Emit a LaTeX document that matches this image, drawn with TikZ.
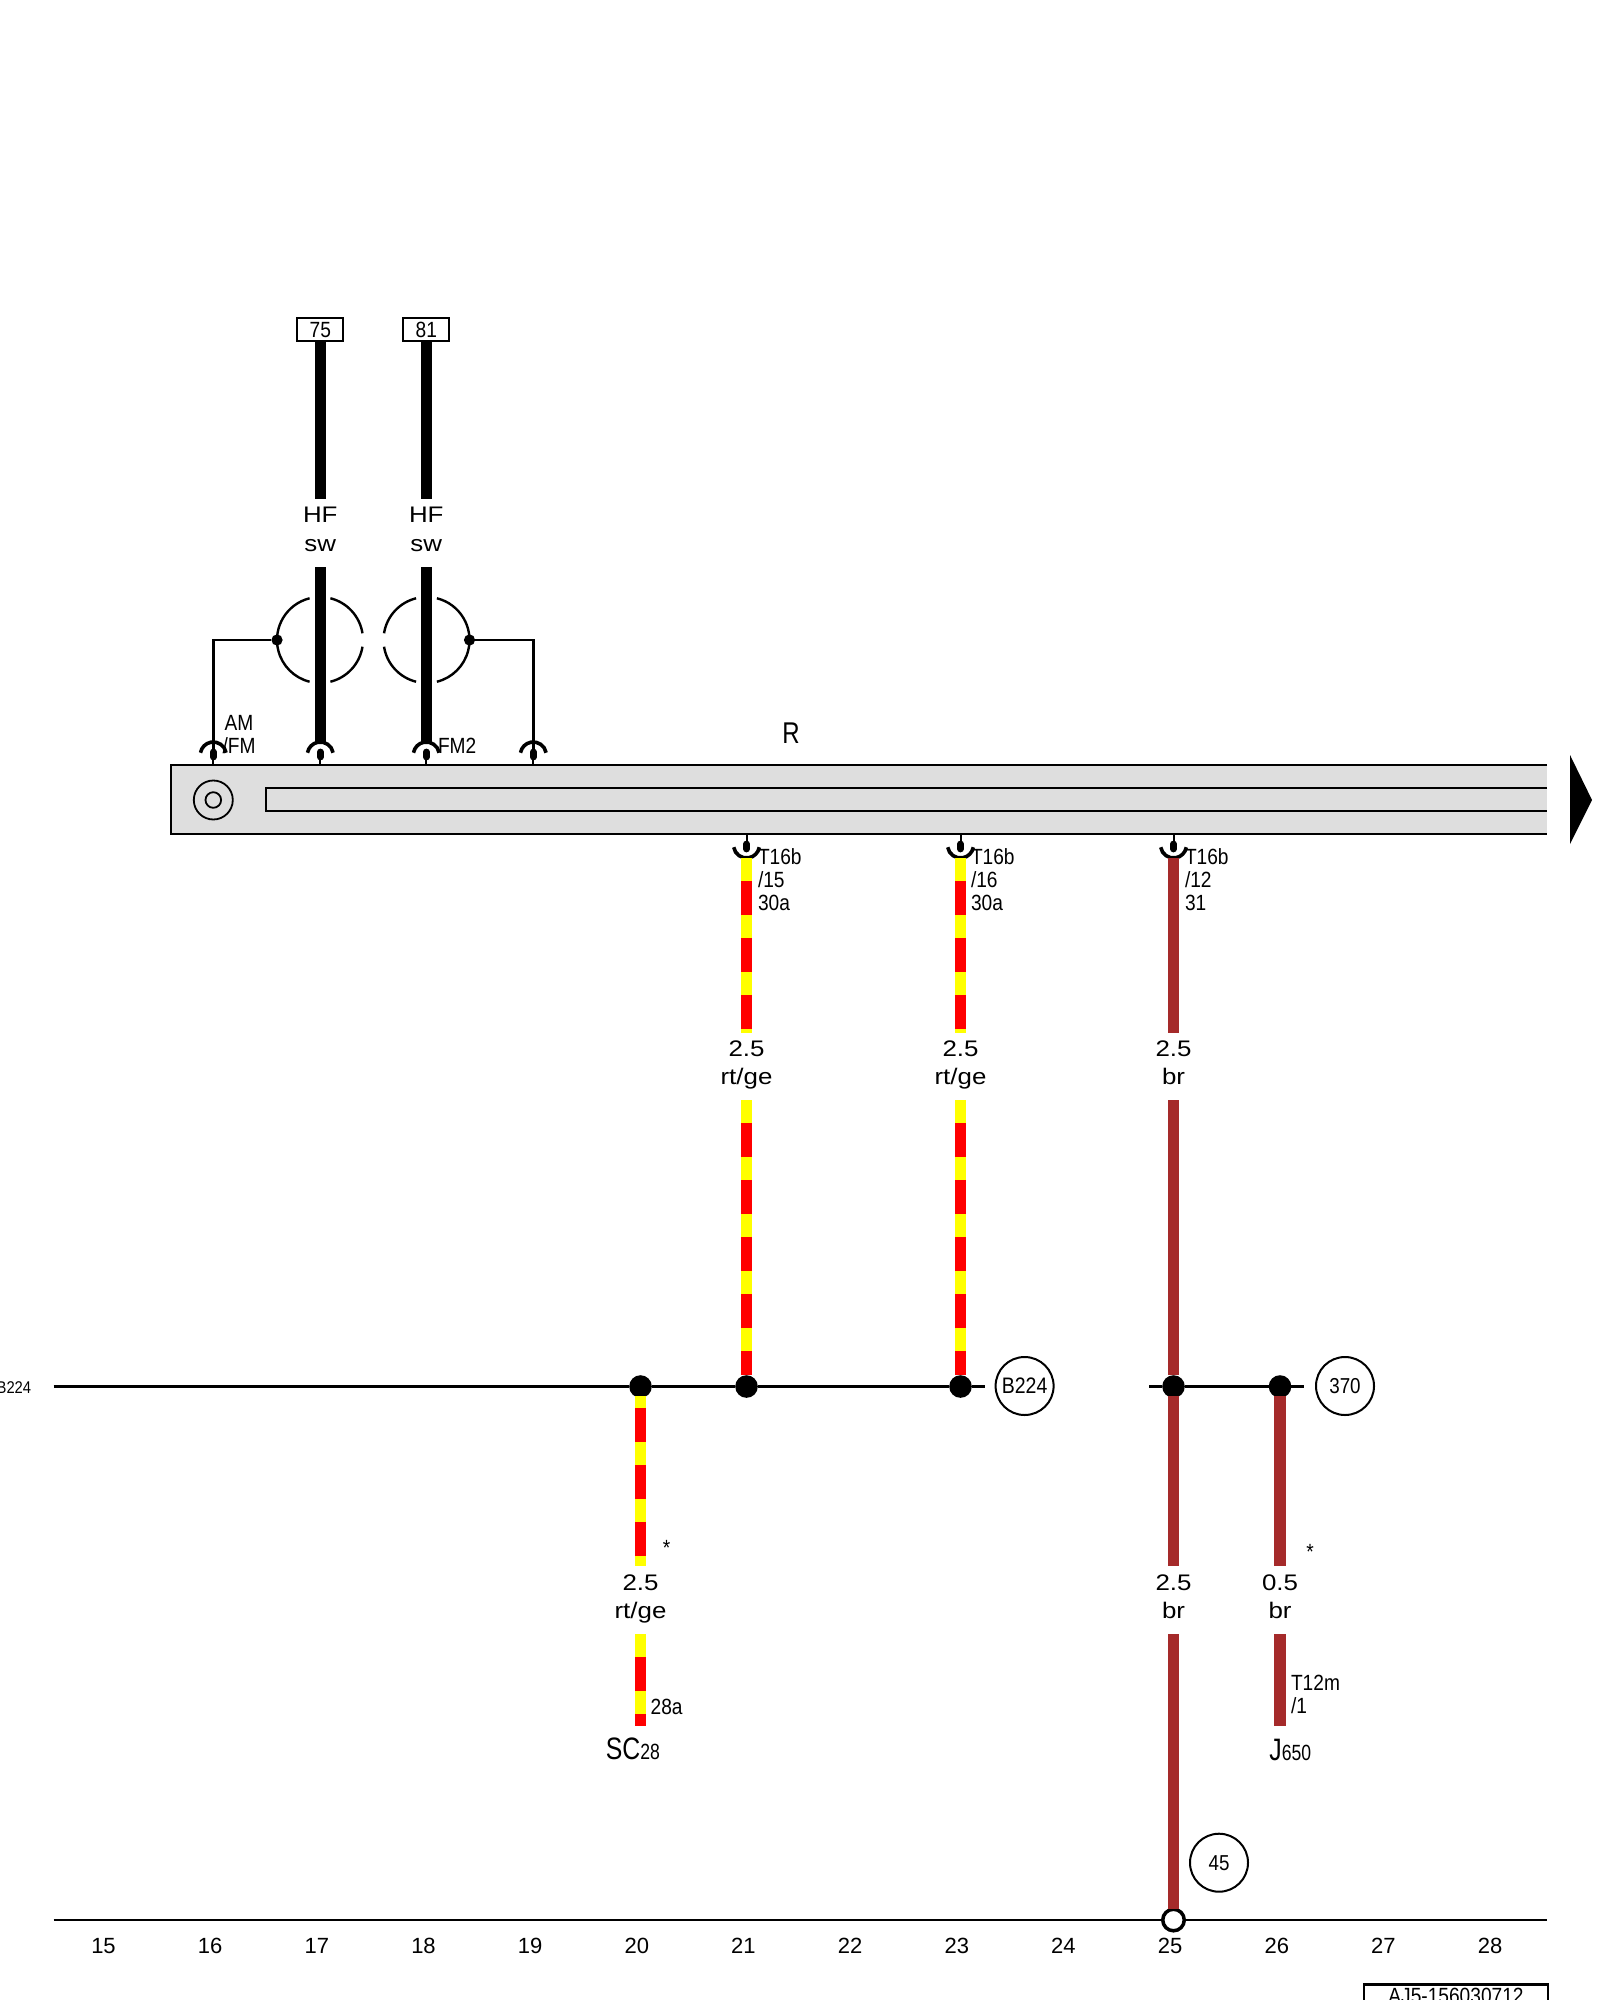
\documentclass[tikz,border=0pt]{standalone}
\usepackage{fontspec}
\setmainfont{Liberation Sans}
\newfontfamily\fnarrow[FakeStretch=0.87]{Liberation Sans}
\newfontfamily\fpart[FakeStretch=0.8]{Liberation Sans}
\newfontfamily\fwide[FakeStretch=1.15]{Liberation Sans}
\definecolor{wbrown}{HTML}{A52A2A}
\definecolor{wyellow}{HTML}{FFFF00}
\definecolor{wred}{HTML}{FF0000}
\definecolor{bargray}{HTML}{DEDEDE}
\tikzset{
  gauge/.style={font=\fwide\fontsize{11.25}{12}\selectfont,inner sep=0pt,outer sep=0pt},
  small/.style={font=\fnarrow\fontsize{11}{11.5}\selectfont,inner sep=0pt,outer sep=0pt,align=left},
  part/.style={font=\fpart\fontsize{15}{16}\selectfont,inner sep=0pt,outer sep=0pt},
  tick/.style={font=\fontsize{11}{12}\selectfont,inner sep=0pt,outer sep=0pt},
  blackwire/.style={line width=5.75pt,black},
  brownwire/.style={line width=5.7pt,wbrown},
  ywire/.style={line width=5.9pt,wyellow},
  rwire/.style={line width=5.9pt,wred,dash pattern=on 17pt off 11.5pt},
  thinline/.style={line width=1.2pt,black},
  barline/.style={line width=1pt,black},
  arch/.style={line width=1.8pt,black},
  pinblob/.style={line width=3.4pt,black,line cap=round},
  junction/.style={circle,fill=black,inner sep=0pt,outer sep=0pt,minimum size=11.3pt},
  smalldot/.style={circle,fill=black,inner sep=0pt,outer sep=0pt,minimum size=5.6pt},
  ref/.style={circle,draw=black,line width=1pt,fill=white,inner sep=0pt,outer sep=0pt,minimum size=29pt,
     font=\fnarrow\fontsize{10.8}{12}\selectfont},
  loopc/.style={circle,inner sep=0pt,outer sep=0pt,minimum size=43pt},
  hit/.style={circle,inner sep=0pt,outer sep=0pt,minimum size=13pt},
  tag/.style={draw=black,line width=1pt,fill=white,inner sep=0pt,outer sep=0pt,minimum width=23pt,minimum height=11.5pt,
     font=\fnarrow\fontsize{11}{12}\selectfont},
}
\newcommand\stripe[3][17pt]{%
  \draw[ywire] (#2) -- (#3);
  \draw[rwire,dash phase=#1] (#2) -- (#3);}
\begin{document}
\begin{tikzpicture}[x=0.5pt,y=-0.5pt]
\useasboundingbox (0,0) rectangle (1600,2000);
\fill[white] (0,0) rectangle (1600,2000);

% --- unit R body
\fill[bargray] (170.7,765) rectangle (1547,834.3);
\draw[barline] (1547,765) -- (170.7,765) -- (170.7,834.3) -- (1547,834.3);
\draw[barline] (1547,788.3) -- (266,788.3) -- (266,811) -- (1547,811);
\node[circle,draw=black,line width=0.9pt,inner sep=0pt,outer sep=0pt,minimum size=19.5pt] (ringout) at (213.3,800) {};
\node[circle,draw=black,line width=0.9pt,inner sep=0pt,outer sep=0pt,minimum size=7.8pt] (ringin) at (213.3,800) {};
\fill[black] (1570,755) -- (1592,800) -- (1570,844) -- cycle;
\node[part] (labR) at (791,733) {R};

% --- top connectors on the unit
\foreach \n/\x in {c1/213.3,c2/320.3,c3/426.3,c4/533.3}{
  \node[hit] (\n) at (\x,755) {};
  \draw[pinblob] (\x,752) -- (\x,757);
  \draw[barline] (\x,757) -- (\x,765);
}
% --- bottom connectors on the unit
\foreach \n/\x in {c5/746.5,c6/960.5,c7/1173.5}{
  \node[hit] (\n) at (\x,845) {};
  \draw[pinblob] (\x,844) -- (\x,849);
  \draw[barline] (\x,834) -- (\x,844);
}

% --- top wires
\node[tag] (t75) at (320.3,330) {75};
\node[tag] (t81) at (426.3,330) {81};
\coordinate (a1) at (320.3,499); \coordinate (a2) at (320.3,567);
\coordinate (b1) at (426.3,499); \coordinate (b2) at (426.3,567);
\draw[blackwire] (t75.south) -- (a1);
\draw[blackwire] (a2) -- (c2.north);
\draw[blackwire] (t81.south) -- (b1);
\draw[blackwire] (b2) -- (c3.north);
\foreach \n in {c1,c2,c3,c4}{ \draw[arch] (\n.10) arc[start angle=10,end angle=170,radius=6.5pt]; }
\foreach \n in {c5,c6,c7}{ \draw[arch] (\n.190) arc[start angle=190,end angle=350,radius=6.5pt]; }

\node[gauge] (hf1) at (320.3,515) {HF};
\node[gauge] (sw1) at (320.3,546) {sw};
\node[gauge] (hf2) at (426.3,515) {HF};
\node[gauge] (sw2) at (426.3,546) {sw};

% --- screen loops
\node[loopc] (l1) at (320,640) {};
\node[loopc] (l2) at (426.5,640) {};
\draw[thinline] (l1.104) arc[start angle=104,end angle=256,radius=21.5pt];
\draw[thinline] (l1.76) arc[start angle=76,end angle=9,radius=21.5pt];
\draw[thinline] (l1.-9) arc[start angle=-9,end angle=-76,radius=21.5pt];
\draw[thinline] (l2.76) arc[start angle=76,end angle=-76,radius=21.5pt];
\draw[thinline] (l2.104) arc[start angle=104,end angle=171,radius=21.5pt];
\draw[thinline] (l2.189) arc[start angle=189,end angle=256,radius=21.5pt];
\node[smalldot] (s1) at (l1.west) {};
\node[smalldot] (s2) at (l2.east) {};
\draw[thinline] (s1) -| (c1.center);
\draw[thinline] (s2) -| (c4.center);

\node[small,anchor=center,align=center] (lamfm) at (239,735) {AM\\/FM};
\node[small,anchor=west] (lfm2) at (438,746) {FM2};

% --- junctions
\node[junction] (d20) at (640.5,1386.5) {};
\node[junction] (d21) at (746.5,1386.5) {};
\node[junction] (d23) at (960.5,1386.5) {};
\node[junction] (d25) at (1173.5,1386.5) {};
\node[junction] (d26) at (1280,1386.5) {};
\node[circle,draw=black,line width=1.75pt,fill=white,inner sep=0pt,outer sep=0pt,minimum size=10.75pt] (g25) at (1173.5,1920) {};

% --- rt/ge wires
\coordinate (p1) at (746.5,1032.5); \coordinate (p2) at (746.5,1100);
\coordinate (q1) at (960.5,1032.5); \coordinate (q2) at (960.5,1100);
\coordinate (s20a) at (640.5,1565.7); \coordinate (s20b) at (640.5,1634.3); \coordinate (s20c) at (640.5,1725.7);
\stripe{c5.south}{p1}
\stripe{p2}{d21.north}
\stripe{c6.south}{q1}
\stripe{q2}{d23.north}
\stripe[22.4pt]{[yshift=1pt]d20.south}{s20a}
\stripe{s20b}{s20c}

% --- brown wires
\coordinate (r1) at (1173.5,1032.5); \coordinate (r2) at (1173.5,1100);
\coordinate (r3) at (1173.5,1565.7); \coordinate (r4) at (1173.5,1634.3);
\coordinate (u1) at (1280,1565.7); \coordinate (u2) at (1280,1634.3); \coordinate (u3) at (1280,1725.7);
\draw[brownwire] (c7.south) -- (r1);
\draw[brownwire] (r2) -- (d25.north);
\draw[brownwire] ([yshift=1pt]d25.south) -- (r3);
\draw[brownwire] (r4) -- (g25.north);
\draw[brownwire] ([yshift=1pt]d26.south) -- (u1);
\draw[brownwire] (u2) -- (u3);

% --- bus lines
\coordinate (busl) at (53.6,1386.5);
\coordinate (busr) at (985,1386.5);
\coordinate (bus2l) at (1149.3,1386.5);
\coordinate (bus2r) at (1303.7,1386.5);
\draw[thinline] (busl) -- (d20) -- (d21) -- (d23) -- (busr);
\draw[line width=1.4pt] (bus2l) -- (d25) -- (d26) -- (bus2r);
\coordinate (gl) at (53.6,1920);
\coordinate (gr) at (1547.3,1920);
\draw[thinline] (gl) -- (g25) -- (gr);

% --- references
\node[ref,font=\fnarrow\fontsize{11.2}{12}\selectfont] (rb) at (1024.6,1386) {B224};
\node[ref] (r370) at (1345,1386) {370};
\node[ref] (r45) at (1219,1862.7) {45};
\node[inner sep=0pt,anchor=east,font=\fnarrow\fontsize{8.5}{9}\selectfont] (lb) at (31.6,1387.5) {B224};

% --- pin labels
\node[small,anchor=west] (l15) at (758,880) {T16b\\/15\\30a};
\node[small,anchor=west] (l16) at (971,880) {T16b\\/16\\30a};
\node[small,anchor=west] (l12) at (1185,880) {T16b\\/12\\31};
\node[small,anchor=west] (lt12) at (1291,1694) {T12m\\/1};
\node[small,anchor=west] (l28) at (650.7,1706.7) {28a};
\node[small,font=\fnarrow\fontsize{11}{12}\selectfont] (st1) at (666.5,1548) {*};
\node[small,font=\fnarrow\fontsize{11}{12}\selectfont] (st2) at (1310,1552) {*};

% --- gauge and colour labels
\foreach \n/\x/\g/\c/\y in {g1/746.5/2.5/rt\slash ge/1048.5, g2/960.5/2.5/rt\slash ge/1048.5, g3/1173.5/2.5/br/1048.5,
   g4/640.5/2.5/rt\slash ge/1582.5, g5/1173.5/2.5/br/1582.5, g6/1280/0.5/br/1582.5}{
  \node[gauge] (\n a) at (\x,\y) {\g};
  \node[gauge,anchor=base] (\n b) at ([yshift=-5.6pt-12.6pt]\n a.center) {\c};
}

% --- component labels
\node[inner sep=0pt,anchor=base west] (sc) at (605.5,1759) {\fpart\fontsize{15.5}{16}\selectfont SC\fontsize{11}{12}\selectfont 28};
\node[inner sep=0pt,anchor=base west] (j) at (1269,1760) {\fpart\fontsize{15.5}{16}\selectfont J\fontsize{11}{12}\selectfont 650};

% --- track numbers
\foreach \k in {15,...,28}{
  \pgfmathsetmacro\tx{103.5+106.66*(\k-15)}
  \node[tick] (tick\k) at (\tx,1946) {\k};
}

% --- title box, cut by the page edge
\draw[thinline] (1364,2010) -- (1364,1984.3) -- (1547.7,1984.3) -- (1547.7,2010);
\node[inner sep=0pt,anchor=base,font=\fnarrow\fontsize{11}{12}\selectfont] (code) at (1456,2003) {AJ5-156030712};
\end{tikzpicture}
\end{document}
